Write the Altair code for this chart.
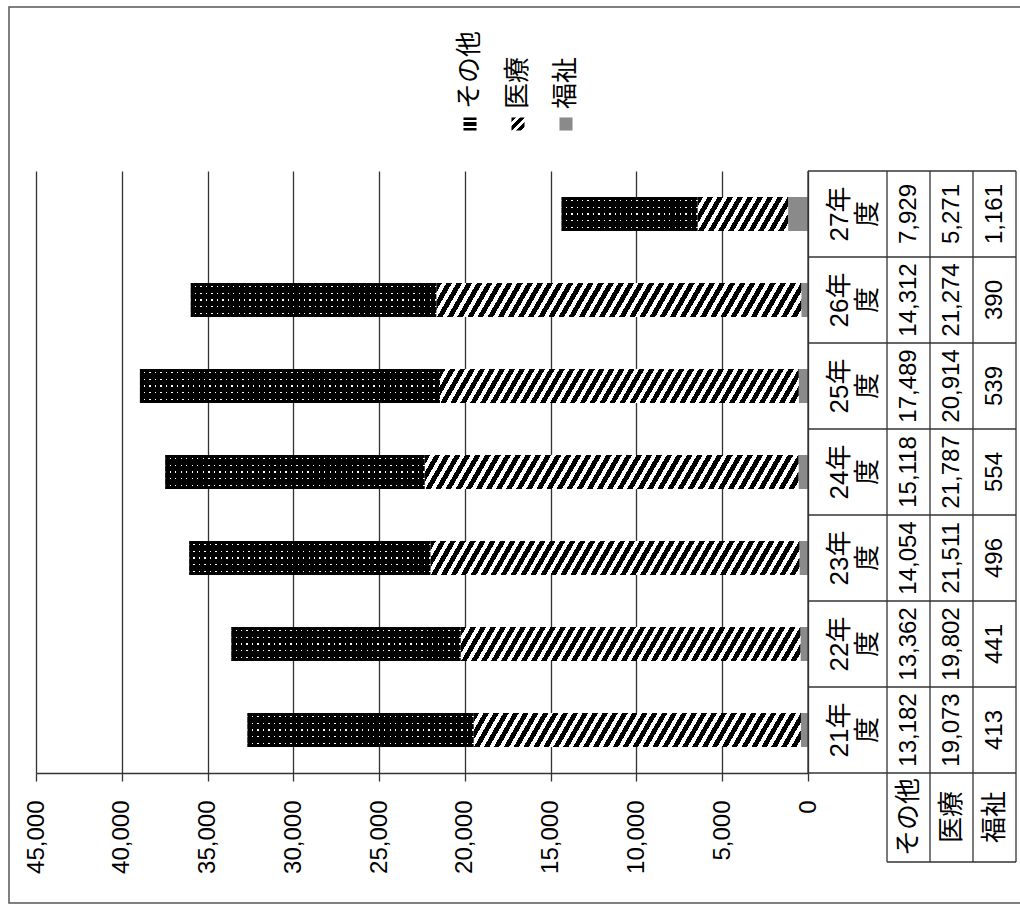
import altair as alt
import pandas as pd

# ---------------- data ----------------
years = ["21年度", "22年度", "23年度", "24年度", "25年度", "26年度", "27年度"]
series = ["その他", "医療", "福祉"]
sonota = [13182, 13362, 14054, 15118, 17489, 14312, 7929]
iryo = [19073, 19802, 21511, 21787, 20914, 21274, 5271]
fukushi = [413, 441, 496, 554, 539, 390, 1161]
tick_values = [0, 5000, 10000, 15000, 20000, 25000, 30000, 35000, 40000, 45000]

# ---------------- layout / style ----------------
FONT = "Liberation Sans, Noto Sans CJK JP, sans-serif"
FS_NUM = 24
FS_JP = 26
LINE = "#333333"
PLOT_W, PLOT_H = 772, 602
XMAX = 45000
PX = PLOT_W / XMAX
BAR = 34

rows = []
for i, y in enumerate(years):
    for s, vals, o in (("福祉", fukushi, 0), ("医療", iryo, 1), ("その他", sonota, 2)):
        rows.append(dict(year=y, series=s, value=vals[i], ord=o))
df = pd.DataFrame(rows)
cat_df = pd.DataFrame({"year": years, "label": [y[:-1] + "\n" + y[-1] for y in years]})
ser_df = pd.DataFrame({"series": series})


def grad(x2, y2, stops):
    return {"gradient": "linear", "x1": 0, "y1": 0, "x2": round(x2, 5), "y2": round(y2, 5),
            "stops": [{"offset": round(min(o, 1.0), 5), "color": c} for o, c in stops]}


def stripes(n, pattern):
    stops = []
    for i in range(n):
        pos = i / n
        for frac, col in pattern:
            stops.append((pos, col))
            pos += frac / n
            stops.append((pos, col))
    return stops


def hatch(v):
    wb = v * PX
    k = 0.577 * BAR / wb
    s = (1 + k) / (1 + k * k)
    n = max(1, round(wb * (1 + k) / 10))
    return grad(s, s * k, stripes(n, [(0.55, "#000000"), (0.45, "#ffffff")]))


def dotcols(v):
    wb = v * PX
    n = max(1, round(wb / 5.5))
    return grad(1, 0, stripes(n, [(0.75, "#000000"), (0.25, "rgba(0,0,0,0)")]))


rows_grad = grad(0, 1, stripes(5, [(0.42, "#000000"), (0.16, "#ffffff"), (0.42, "#000000")]))


def per_year(fn, vals):
    return {"condition": [{"test": f"datum.year === '{y}'", "value": fn(v)} for y, v in zip(years, vals)],
            "value": "#000000"}


def Y(**kw):
    return alt.Y("year:N", sort=years[::-1],
                 scale=alt.Scale(domain=years[::-1], paddingInner=0, paddingOuter=0),
                 axis=None, **kw)


xaxis = alt.Axis(values=tick_values, format=",d", labelAngle=270, labelAlign="right",
                 labelBaseline="middle", labelFont=FONT, labelFontSize=FS_NUM, labelColor="#000000",
                 labelPadding=19, tickSize=8, tickColor=LINE, domainColor=LINE, gridColor=LINE,
                 grid=True, title=None, labelFlush=False, labelOverlap=False,
                 domainWidth=1.3, gridWidth=1.3, tickWidth=1.3)
xscale = alt.Scale(domain=[0, XMAX], reverse=True, nice=False, zero=True)

base = alt.Chart(df).transform_stack(
    stack="value", groupby=["year"], as_=["v0", "v1"], sort=[alt.SortField("ord")]
)


def bar_layer(name, **mark):
    return base.transform_filter(alt.datum.series == name).mark_bar(size=BAR, **mark)


enc = dict(x=alt.X("v0:Q", scale=xscale, axis=xaxis), x2="v1:Q", y=Y())

l_fuku = bar_layer("福祉", fill="#8a8a8a").encode(**enc)
l_iryo = bar_layer("医療").encode(fill=per_year(hatch, iryo), **enc)
l_sonA = bar_layer("その他", fill=rows_grad).encode(**enc)
l_sonB = bar_layer("その他").encode(fill=per_year(dotcols, sonota), **enc)

plot = alt.layer(l_fuku, l_iryo, l_sonA, l_sonB)

# ---------------- data table ----------------
tscale = alt.Scale(type="point", domain=series, range=[872.5, 958.5], padding=0)
txt = dict(angle=270, align="center", baseline="middle", font=FONT, color="#000000")

t_vals = alt.Chart(df).mark_text(fontSize=FS_NUM, **txt).encode(
    x=alt.X("series:N", scale=tscale, axis=None), y=Y(),
    text=alt.Text("value:Q", format=","))
t_head = alt.Chart(ser_df).mark_text(fontSize=FS_JP, **txt).encode(
    x=alt.X("series:N", scale=tscale, axis=None), y=alt.value(646), text="series:N")
t_cat = alt.Chart(cat_df).mark_text(lineBreak="\n", lineHeight=28, fontSize=FS_JP, **txt).encode(
    x=alt.value(804), y=Y(), text="label:N")
t_hr = alt.Chart(cat_df).mark_rule(color=LINE, strokeWidth=1.3).encode(
    y=Y(bandPosition=0), x=alt.value(772), x2=alt.value(980))

rule_specs = [
    (772, 772, 0, 602), (851, 851, 0, 691), (894, 894, 0, 691), (937, 937, 0, 691),
    (980, 980, 0, 691), (772, 980, 602, 602), (851, 980, 691, 691),
]
t_rules = [
    alt.Chart(cat_df.head(1)).mark_rule(color=LINE, strokeWidth=1.3).encode(
        x=alt.value(a), x2=alt.value(b), y=alt.value(c), y2=alt.value(d))
    for a, b, c, d in rule_specs
]
frame = alt.Chart(cat_df.head(1)).mark_rect(fillOpacity=0, stroke="#555555", strokeWidth=1.5).encode(
    x=alt.value(-27), x2=alt.value(1000), y=alt.value(-164), y2=alt.value(732))

table = alt.layer(t_vals, t_head, t_cat, t_hr, *t_rules, frame)

# ---------------- legend ----------------
lscale = alt.Scale(type="point", domain=series, range=[434, 530], padding=0)
key_fill = {
    "condition": [
        {"test": "datum.series === 'その他'",
         "value": grad(0, 1, stripes(2, [(0.35, "#000000"), (0.3, "#ffffff"), (0.35, "#000000")]))},
        {"test": "datum.series === '医療'",
         "value": grad(1, 1, stripes(3, [(0.55, "#000000"), (0.45, "#ffffff")]))},
    ],
    "value": "#8a8a8a",
}
leg_text = alt.Chart(ser_df).mark_text(angle=270, align="left", baseline="middle", font=FONT,
                                       fontSize=FS_JP, color="#000000").encode(
    x=alt.X("series:N", scale=lscale, axis=None), y=alt.value(-62), text="series:N")
leg_key = alt.Chart(ser_df).mark_square(size=170, opacity=1, strokeWidth=0).encode(
    x=alt.X("series:N", scale=lscale, axis=None), y=alt.value(-47), fill=key_fill)
legend = alt.layer(leg_key, leg_text)

chart = alt.layer(plot, table, legend).resolve_scale(x="independent").properties(
    width=PLOT_W, height=PLOT_H,
    autosize=alt.AutoSizeParams(type="none"),
    padding={"left": 36, "top": 171, "right": 212, "bottom": 131},
    background="white",
).configure_view(stroke=None)

chart.save("out.html", embed_options={"renderer": "svg", "actions": False})
